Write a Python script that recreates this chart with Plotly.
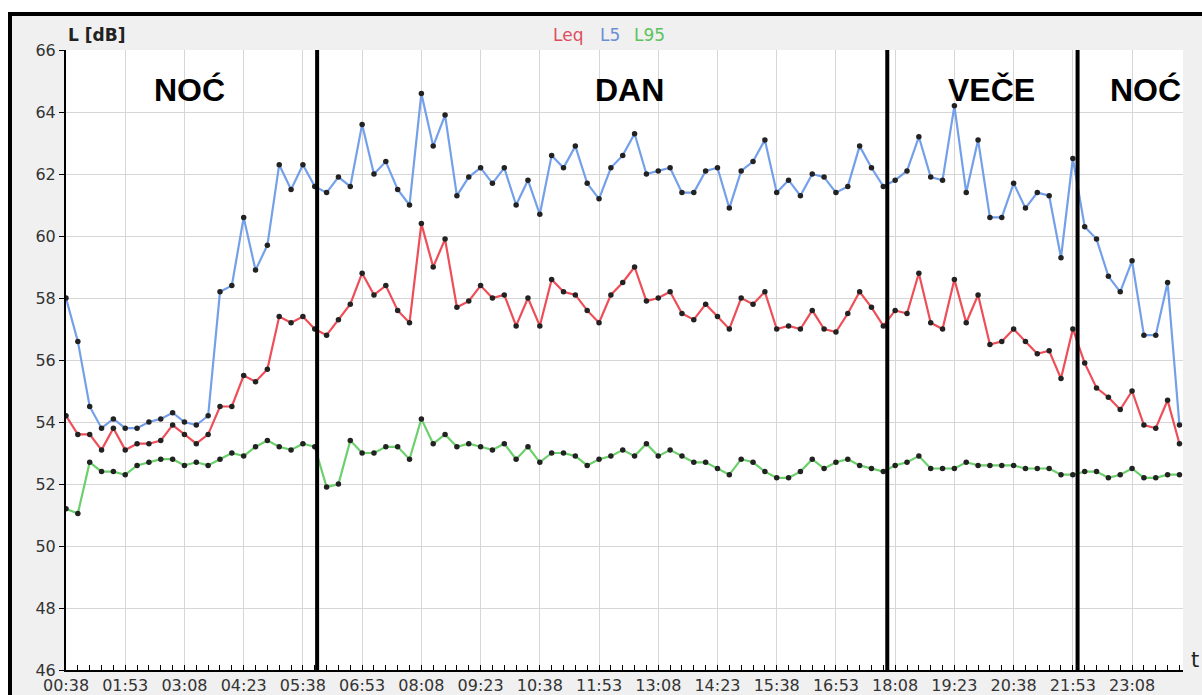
import plotly.graph_objects as go

# ---- data (15-minute intervals starting 00:38) ----
leq = [54.2, 53.6, 53.6, 53.1, 53.8, 53.1, 53.3, 53.3, 53.4, 53.9,
       53.6, 53.3, 53.6, 54.5, 54.5, 55.5, 55.3, 55.7, 57.4, 57.2,
       57.4, 57.0, 56.8, 57.3, 57.8, 58.8, 58.1, 58.4, 57.6, 57.2,
       60.4, 59.0, 59.9, 57.7, 57.9, 58.4, 58.0, 58.1, 57.1, 58.0,
       57.1, 58.6, 58.2, 58.1, 57.6, 57.2, 58.1, 58.5, 59.0, 57.9,
       58.0, 58.2, 57.5, 57.3, 57.8, 57.4, 57.0, 58.0, 57.8, 58.2,
       57.0, 57.1, 57.0, 57.6, 57.0, 56.9, 57.5, 58.2, 57.7, 57.1,
       57.6, 57.5, 58.8, 57.2, 57.0, 58.6, 57.2, 58.1, 56.5, 56.6,
       57.0, 56.6, 56.2, 56.3, 55.4, 57.0, 55.9, 55.1, 54.8, 54.4,
       55.0, 53.9, 53.8, 54.7, 53.3]

l5 = [58.0, 56.6, 54.5, 53.8, 54.1, 53.8, 53.8, 54.0, 54.1, 54.3,
      54.0, 53.9, 54.2, 58.2, 58.4, 60.6, 58.9, 59.7, 62.3, 61.5,
      62.3, 61.6, 61.4, 61.9, 61.6, 63.6, 62.0, 62.4, 61.5, 61.0,
      64.6, 62.9, 63.9, 61.3, 61.9, 62.2, 61.7, 62.2, 61.0, 61.8,
      60.7, 62.6, 62.2, 62.9, 61.7, 61.2, 62.2, 62.6, 63.3, 62.0,
      62.1, 62.2, 61.4, 61.4, 62.1, 62.2, 60.9, 62.1, 62.4, 63.1,
      61.4, 61.8, 61.3, 62.0, 61.9, 61.4, 61.6, 62.9, 62.2, 61.6,
      61.8, 62.1, 63.2, 61.9, 61.8, 64.2, 61.4, 63.1, 60.6, 60.6,
      61.7, 60.9, 61.4, 61.3, 59.3, 62.5, 60.3, 59.9, 58.7, 58.2,
      59.2, 56.8, 56.8, 58.5, 53.9]

l95 = [51.2, 51.05, 52.7, 52.4, 52.4, 52.3, 52.6, 52.7, 52.8, 52.8,
       52.6, 52.7, 52.6, 52.8, 53.0, 52.9, 53.2, 53.4, 53.2, 53.1,
       53.3, 53.2, 51.9, 52.0, 53.4, 53.0, 53.0, 53.2, 53.2, 52.8,
       54.1, 53.3, 53.6, 53.2, 53.3, 53.2, 53.1, 53.3, 52.8, 53.2,
       52.7, 53.0, 53.0, 52.9, 52.6, 52.8, 52.9, 53.1, 52.9, 53.3,
       52.9, 53.1, 52.9, 52.7, 52.7, 52.5, 52.3, 52.8, 52.7, 52.4,
       52.2, 52.2, 52.4, 52.8, 52.5, 52.7, 52.8, 52.6, 52.5, 52.4,
       52.6, 52.7, 52.9, 52.5, 52.5, 52.5, 52.7, 52.6, 52.6, 52.6,
       52.6, 52.5, 52.5, 52.5, 52.3, 52.3, 52.4, 52.4, 52.2, 52.3,
       52.5, 52.2, 52.2, 52.3, 52.3]

tick_labels = ["00:38", "01:53", "03:08", "04:23", "05:38", "06:53", "08:08",
               "09:23", "10:38", "11:53", "13:08", "14:23", "15:38", "16:53",
               "18:08", "19:23", "20:38", "21:53", "23:08"]

period_labels = ["NOĆ", "DAN", "VEČE", "NOĆ"]
period_centers = ["03:15", "12:31", "20:10", "23:25"]   # label centre times
period_bounds = ["05:56", "17:58", "21:59"]             # dividing lines


def to_min(s):
    h, m = s.split(":")
    return int(h) * 60 + int(m)


start = to_min(tick_labels[0])
minutes = [start + 15 * i for i in range(len(leq))]
tickvals = [to_min(t) for t in tick_labels]

fig = go.Figure()
series = [("L95", l95, "#6cd06c"), ("Leq", leq, "#ee4e58"), ("L5", l5, "#74a0ea")]
for name, vals, col in series:
    fig.add_trace(go.Scatter(
        x=minutes, y=vals, mode="lines+markers", name=name,
        line=dict(color=col, width=2.2),
        marker=dict(color="#222222", size=5.5),
        showlegend=False, hoverinfo="skip"))

X0, X1, Y0, Y1 = 66, 1183, 50, 670


def px(p):
    return (p - X0) / (X1 - X0)


def py(p):
    return (Y1 - p) / (Y1 - Y0)


shapes = []
# white strips outside outer frame
shapes.append(dict(type="rect", xref="paper", yref="paper", x0=px(-5), x1=px(1210),
                   y0=py(12), y1=py(-5), fillcolor="white", line=dict(width=0)))
shapes.append(dict(type="rect", xref="paper", yref="paper", x0=px(-5), x1=px(8),
                   y0=py(700), y1=py(-5), fillcolor="white", line=dict(width=0)))
# outer frame
shapes.append(dict(type="rect", xref="paper", yref="paper", x0=px(10), x1=px(1215),
                   y0=py(710), y1=py(14), line=dict(color="black", width=4)))
# period divider lines
for b in period_bounds:
    shapes.append(dict(type="line", xref="x", yref="y", x0=to_min(b), x1=to_min(b),
                       y0=46, y1=66, line=dict(color="black", width=4)))

annotations = []
for lab, c in zip(period_labels, period_centers):
    annotations.append(dict(x=to_min(c), y=64.7, xref="x", yref="y",
                            text="<b>" + lab + "</b>", showarrow=False,
                            font=dict(family="Liberation Sans", size=32, color="black"),
                            xanchor="center", yanchor="middle"))

annotations.append(dict(x=px(66), y=py(35), xref="paper", yref="paper",
                        text="<b>L [dB]</b>", showarrow=False, xanchor="left",
                        yanchor="middle",
                        font=dict(family="DejaVu Sans", size=17, color="#222222")))
legend_items = [("Leq", "#dc4f5e", 568), ("L5", "#6b8fd3", 609.5), ("L95", "#5cc25c", 649)]
for txt, col, cx in legend_items:
    annotations.append(dict(x=px(cx), y=py(35), xref="paper", yref="paper",
                            text=txt, showarrow=False, xanchor="center",
                            yanchor="middle",
                            font=dict(family="DejaVu Sans", size=17, color=col)))
annotations.append(dict(x=px(1195), y=py(660), xref="paper", yref="paper",
                        text="t", showarrow=False, xanchor="center", yanchor="middle",
                        font=dict(family="DejaVu Sans", size=21, color="#222222")))

fig.update_layout(
    width=1202, height=695,
    margin=dict(l=X0, r=1202 - X1, t=Y0, b=695 - Y1),
    paper_bgcolor="#f0f0f0", plot_bgcolor="white",
    shapes=shapes, annotations=annotations,
    font=dict(family="DejaVu Sans", size=16, color="#333333"),
    xaxis=dict(range=[start, start + 15 * 94.3], tickmode="array", tickvals=tickvals,
               ticktext=tick_labels, ticks="inside", ticklen=5, tickwidth=1,
               tickcolor="black", showline=True, linecolor="black", linewidth=2,
               showgrid=True, gridcolor="#d6d6d6", gridwidth=1, zeroline=False,
               automargin=False,
               tickfont=dict(family="DejaVu Sans", size=16, color="#333333"),
               minor=dict(tickmode="linear", tick0=start, dtick=15, ticks="inside",
                          ticklen=5, tickwidth=1, tickcolor="black", showgrid=False)),
    yaxis=dict(range=[46, 66], tickmode="linear", tick0=46, dtick=2, ticks="outside",
               ticklen=5, tickcolor="black", showline=True, linecolor="black",
               linewidth=2, showgrid=True, gridcolor="#d6d6d6", gridwidth=1,
               zeroline=False, automargin=False,
               tickfont=dict(family="DejaVu Sans", size=16, color="#333333")),
)

fig.write_html("out.html", config={"displayModeBar": False},
               post_script="document.body.style.margin='0';")
